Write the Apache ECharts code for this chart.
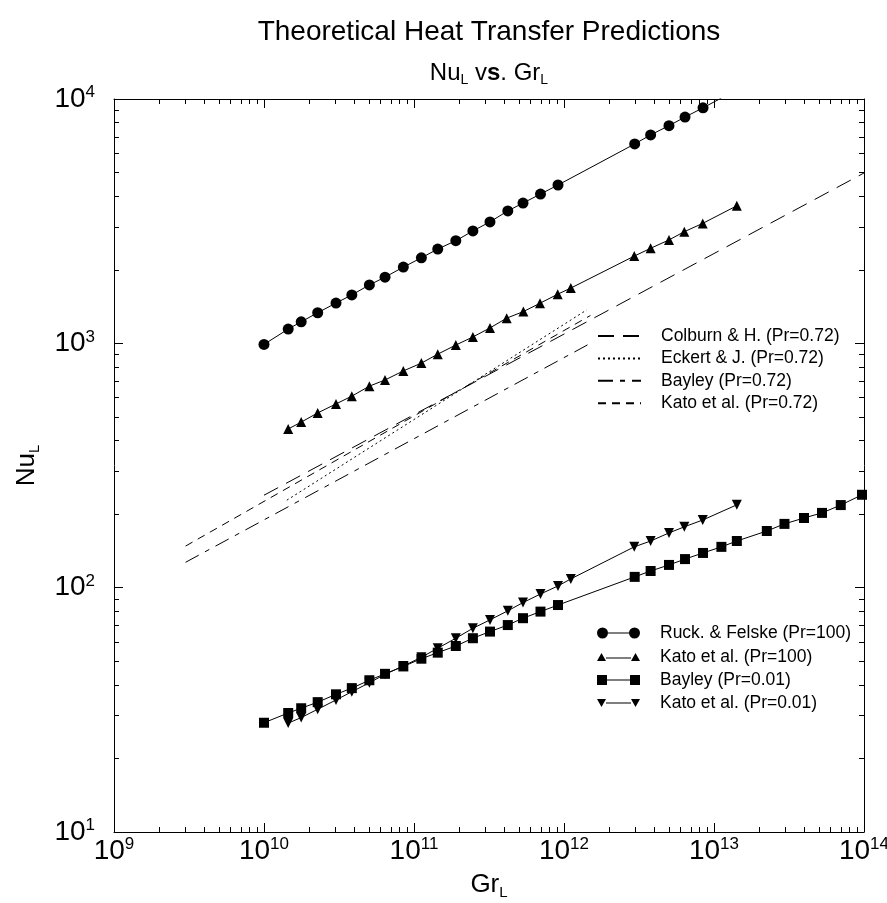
<!DOCTYPE html>
<html><head><meta charset="utf-8">
<script src="https://cdn.jsdelivr.net/npm/echarts@6/dist/echarts.min.js"></script>
<style>html,body{margin:0;padding:0;background:#fff}#c{width:887px;height:903px}</style>
</head><body><div id="c"></div>
<script>
// ---- axis ticks ----
const xDecades = [9, 10, 11, 12, 13, 14];
const yDecades = [1, 2, 3, 4];
const minorMult = [2, 3, 4, 5, 6, 7, 8, 9];

// ---- Pr = 100 ----
const ruckGr = [1.0e10, 1.45e10, 1.77e10, 2.28e10, 3.02e10, 3.85e10, 5.04e10, 6.41e10, 8.49e10, 1.12e11, 1.44e11, 1.90e11, 2.47e11, 3.21e11, 4.22e11, 5.33e11, 6.97e11, 9.12e11, 2.96e12, 3.78e12, 5.01e12, 6.41e12, 8.45e12, 1.12e13];
const ruckNu = [990, 1144, 1225, 1334, 1462, 1578, 1734, 1866, 2051, 2239, 2432, 2630, 2884, 3141, 3483, 3750, 4083, 4446, 6546, 7129, 7780, 8433, 9204, 10090];

const kato100Gr = [1.45e10, 1.77e10, 2.28e10, 3.02e10, 3.85e10, 5.04e10, 6.41e10, 8.49e10, 1.12e11, 1.44e11, 1.90e11, 2.47e11, 3.21e11, 4.15e11, 5.36e11, 6.92e11, 9.08e11, 1.11e12, 2.94e12, 3.78e12, 5.01e12, 6.34e12, 8.41e12, 1.42e13];
const kato100Nu = [446, 476, 519, 565, 608, 668, 708, 771, 830, 903, 984, 1062, 1156, 1268, 1349, 1459, 1589, 1683, 2275, 2449, 2649, 2864, 3097, 3656];

// ---- Pr = 0.01 ----
const bayley001Gr = [1.0e10, 1.45e10, 1.77e10, 2.28e10, 3.02e10, 3.85e10, 5.04e10, 6.41e10, 8.49e10, 1.12e11, 1.44e11, 1.90e11, 2.47e11, 3.21e11, 4.22e11, 5.33e11, 6.97e11, 9.12e11, 2.96e12, 3.78e12, 5.01e12, 6.41e12, 8.45e12, 1.12e13, 1.42e13, 2.25e13, 2.95e13, 3.98e13, 5.25e13, 7.0e13, 9.7e13];
const bayley001Nu = [28.0, 30.7, 32.1, 34.0, 36.6, 38.8, 41.8, 44.4, 47.6, 51.2, 54.2, 57.7, 62.1, 66.1, 70.3, 75.0, 79.8, 84.9, 110.7, 117.0, 123.9, 130.9, 138.7, 146.9, 155.2, 170.6, 182.4, 192.8, 202.3, 217.8, 240.0];

const kato001Gr = [1.45e10, 1.77e10, 2.28e10, 3.02e10, 3.85e10, 5.04e10, 6.41e10, 8.49e10, 1.12e11, 1.44e11, 1.90e11, 2.47e11, 3.21e11, 4.22e11, 5.33e11, 6.97e11, 9.12e11, 1.11e12, 2.94e12, 3.78e12, 5.01e12, 6.34e12, 8.41e12, 1.42e13];
const kato001Nu = [27.9, 29.4, 31.8, 34.7, 37.5, 40.8, 44.2, 47.8, 51.9, 56.5, 62.1, 68.2, 73.8, 80.4, 86.9, 94.2, 101.6, 108.6, 146.9, 155.2, 167.5, 177.4, 189.2, 218.3];

// ---- Pr = 0.72 correlations ----
const colburnGr = [1.0e10, 1.0e14];
const colburnNu = [239, 4980];
const eckertGr = [1.42e10, 1.42e12];
const eckertNu = [228, 1371];
const bayley072Gr = [3.0e9, 1.5e12];
const bayley072Nu = [127, 1000];
const kato072Gr = [3.0e9, 1.5e12];
const kato072Nu = [148, 1300];

const names = {
  colburn: 'Colburn & H. (Pr=0.72)',
  eckert: 'Eckert & J. (Pr=0.72)',
  bayley072: 'Bayley (Pr=0.72)',
  kato072: 'Kato et al. (Pr=0.72)',
  ruck: 'Ruck. & Felske (Pr=100)',
  kato100: 'Kato et al. (Pr=100)',
  bayley001: 'Bayley (Pr=0.01)',
  kato001: 'Kato et al. (Pr=0.01)'
};

const FONT = "'Liberation Sans', Arial, Helvetica, sans-serif";
const zip = (a, b) => a.map((v, i) => [v, b[i]]);
const minorOf = decs => {
  const out = [];
  for (let i = 0; i < decs.length - 1; i++) minorMult.forEach(m => out.push(decs[i] + Math.log10(m)));
  return out;
};
const txt = (size, extra) => Object.assign({ fontSize: size, fontFamily: FONT, color: '#000', fontWeight: 'normal' }, extra || {});
const powRich = {
  b: txt(28, { lineHeight: 30 }),
  s: txt(17, { lineHeight: 15, verticalAlign: 'top' })
};
const powFmt = v => '{b|10}{s|' + Math.round(Math.log10(v)) + '}';

const chart = echarts.init(document.getElementById('c'), null, { renderer: 'canvas' });
const grid = { left: 114, right: 23, top: 99, bottom: 71, outerBoundsMode: 'none', containLabel: false };

const majorAxisBase = {
  splitLine: { show: false },
  axisLine: { show: true, lineStyle: { color: '#000', width: 1 } },
  axisTick: { show: true, inside: true, length: 9, lineStyle: { color: '#000' } }
};
const minorAxis = (min, max, pos, vals) => ({
  type: 'value', min: min, max: max, position: pos,
  axisLine: { show: false }, splitLine: { show: false }, axisLabel: { show: false },
  axisTick: { show: true, inside: true, length: 5, customValues: vals, lineStyle: { color: '#000' } }
});

function lineSeries(key, gr, nu, opts) {
  return Object.assign({
    name: names[key], type: 'line', data: zip(gr, nu),
    xAxisIndex: 0, yAxisIndex: 0,
    lineStyle: { color: '#000', width: 1 },
    itemStyle: { color: '#000' },
    symbol: 'none', clip: true, animation: false
  }, opts);
}

// legend icons: marker - line - marker
const ICON_CIRCLE = 'path://M0,5.5a5.5,5.5 0 1,0 11,0a5.5,5.5 0 1,0 -11,0zM32,5.5a5.5,5.5 0 1,0 11,0a5.5,5.5 0 1,0 -11,0zM11,5H32V6H11z';
const ICON_TRI = 'path://M0,8L4.5,0L9,8zM34,8L38.5,0L43,8zM9,4.5H34V5.5H9z';
const ICON_RECT = 'path://M0,0H10V10H0zM33,0H43V10H33zM10,4.5H33V5.5H10z';
const ICON_ITRI = 'path://M0,0L4.5,8L9,0zM34,0L38.5,8L43,0zM9,3.5H34V4.5H9z';

function markerLegend(name, icon, h, centerY) {
  return {
    data: [{ name: name, icon: icon }], orient: 'vertical', left: 597, top: centerY - 12,
    padding: 0, itemWidth: 43, itemHeight: h,
    textStyle: txt(17.5, { lineHeight: 24, padding: [0, 0, 0, 15] })
  };
}

const option = {
  backgroundColor: '#fff',
  animation: false,
  title: [
    { text: 'Theoretical Heat Transfer Predictions', left: 484, top: 13, textAlign: 'center',
      textStyle: txt(28) },
    { text: '{a|Nu}{s|L}{a| v}{bs|s}{a|. Gr}{s|L}', left: 484, top: 54, textAlign: 'center',
      textStyle: { rich: {
        a: txt(24, { lineHeight: 28 }),
        bs: txt(24, { lineHeight: 28, fontWeight: 'bold' }),
        s: txt(14, { lineHeight: 28, verticalAlign: 'bottom', padding: [13, 0, 0, 0] })
      } } }
  ],
  grid: grid,
  xAxis: [
    Object.assign({}, majorAxisBase, {
      type: 'log', logBase: 10, min: 1e9, max: 1e14, position: 'bottom',
      axisLabel: { formatter: powFmt, rich: powRich, margin: 4 },
      name: '{m|Gr}{s|L}', nameLocation: 'middle', nameGap: 36,
      nameTextStyle: { rich: {
        m: txt(26, { lineHeight: 30 }),
        s: txt(15, { lineHeight: 30, verticalAlign: 'bottom', padding: [15, 0, 0, 0] })
      } }
    }),
    Object.assign({}, majorAxisBase, {
      type: 'log', logBase: 10, min: 1e9, max: 1e14, position: 'top', axisLabel: { show: false }
    }),
    minorAxis(xDecades[0], xDecades[xDecades.length - 1], 'bottom', minorOf(xDecades)),
    minorAxis(xDecades[0], xDecades[xDecades.length - 1], 'top', minorOf(xDecades))
  ],
  yAxis: [
    Object.assign({}, majorAxisBase, {
      type: 'log', logBase: 10, min: 10, max: 1e4, position: 'left',
      axisLabel: { formatter: powFmt, rich: powRich, margin: 19 },
      name: '{m|Nu}{s|L}', nameLocation: 'middle', nameGap: 72, nameRotate: 90,
      nameTextStyle: { rich: {
        m: txt(26, { lineHeight: 30 }),
        s: txt(15, { lineHeight: 30, verticalAlign: 'bottom', padding: [15, 0, 0, 0] })
      } }
    }),
    Object.assign({}, majorAxisBase, {
      type: 'log', logBase: 10, min: 10, max: 1e4, position: 'right', axisLabel: { show: false }
    }),
    minorAxis(yDecades[0], yDecades[yDecades.length - 1], 'left', minorOf(yDecades)),
    minorAxis(yDecades[0], yDecades[yDecades.length - 1], 'right', minorOf(yDecades))
  ],
  legend: [
    { data: [names.colburn, names.eckert, names.bayley072, names.kato072],
      orient: 'vertical', left: 597, top: 325, padding: 0, itemWidth: 43, itemHeight: 10, itemGap: 0.4,
      itemStyle: { opacity: 0 },
      textStyle: txt(17.5, { lineHeight: 22, padding: [0, 0, 0, 15] }) },
    markerLegend(names.ruck, ICON_CIRCLE, 11, 633),
    markerLegend(names.kato100, ICON_TRI, 8, 657),
    markerLegend(names.bayley001, ICON_RECT, 10, 680),
    markerLegend(names.kato001, ICON_ITRI, 8, 703)
  ],
  series: [
    lineSeries('colburn', colburnGr, colburnNu, { lineStyle: { color: '#000', width: 1, type: [16, 9] } }),
    lineSeries('eckert', eckertGr, eckertNu, { lineStyle: { color: '#000', width: 1, type: [2, 3] } }),
    lineSeries('bayley072', bayley072Gr, bayley072Nu, { lineStyle: { color: '#000', width: 1, type: [15, 7, 5, 7] } }),
    lineSeries('kato072', kato072Gr, kato072Nu, { lineStyle: { color: '#000', width: 1, type: [8, 6] } }),
    lineSeries('ruck', ruckGr, ruckNu, { symbol: 'circle', symbolSize: 11 }),
    lineSeries('kato100', kato100Gr, kato100Nu, { symbol: 'triangle', symbolSize: 10 }),
    lineSeries('bayley001', bayley001Gr, bayley001Nu, { symbol: 'rect', symbolSize: 10 }),
    lineSeries('kato001', kato001Gr, kato001Nu, { symbol: 'triangle', symbolSize: 10, symbolRotate: 180 })
  ]
};
chart.setOption(option);
</script></body></html>
